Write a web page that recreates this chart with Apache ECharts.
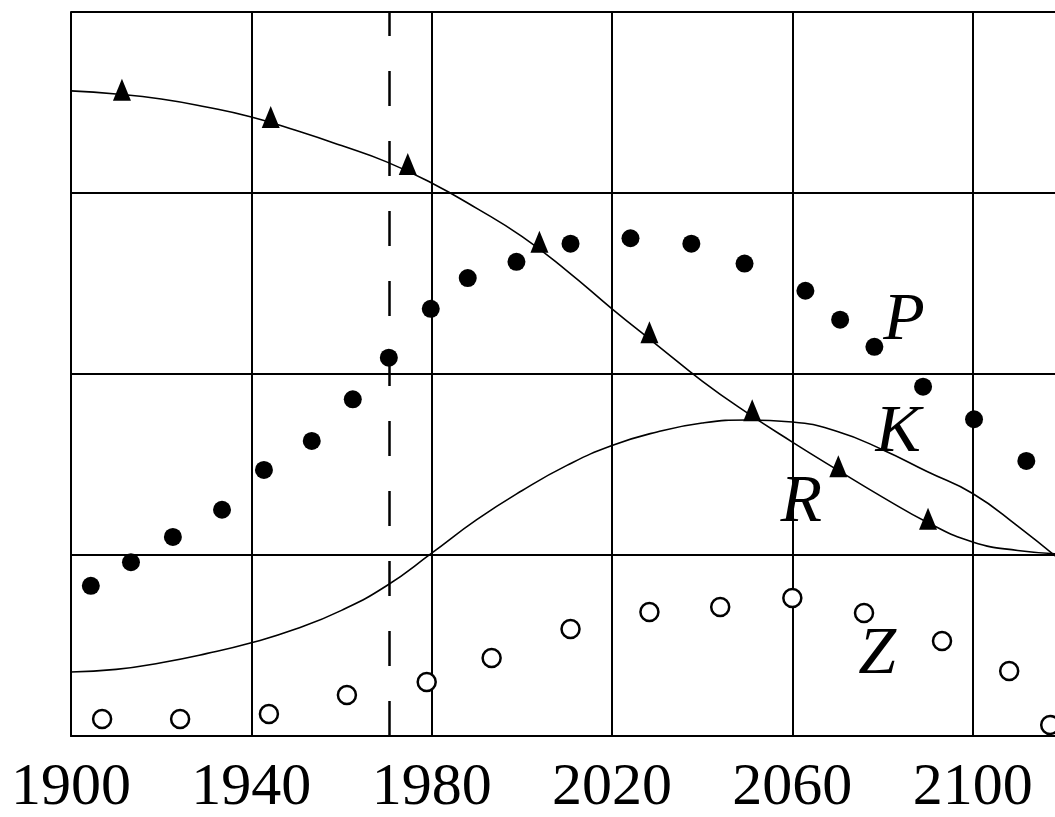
<!DOCTYPE html>
<html>
<head>
<meta charset="utf-8">
<script src="https://cdn.jsdelivr.net/npm/echarts@6/dist/echarts.min.js"></script>
<style>
html,body{margin:0;padding:0;background:#fff;}
#chart{width:1055px;height:817px;}
</style>
</head>
<body>
<div id="chart"></div>
<script>
// Filled circles (P): [year, value]
const pYears  = [1904.4,1913.3,1922.6,1933.5,1942.8,1953.4,1962.5,1970.5,1979.8,1988.0,1998.8,2010.8,2024.1,2037.6,2049.4,2062.9,2070.6,2078.2,2089.0,2100.3,2111.9];
const pValues = [0.83,0.96,1.10,1.25,1.47,1.63,1.86,2.09,2.36,2.53,2.62,2.72,2.75,2.72,2.61,2.46,2.30,2.15,1.93,1.75,1.52];

// Open circles (Z)
const zYears  = [1906.9,1924.2,1943.9,1961.2,1978.9,1993.3,2010.8,2028.3,2044.0,2060.0,2075.9,2093.2,2108.1,2117.2];
const zValues = [0.094,0.094,0.122,0.227,0.298,0.431,0.591,0.685,0.713,0.762,0.680,0.525,0.359,0.061];

// Triangles on the falling curve
const triYears  = [1911.3,1944.3,1974.7,2003.9,2028.3,2051.1,2070.2,2090.1];
const triValues = [3.57,3.42,3.16,2.73,2.23,1.80,1.49,1.20];

// Curves read every 10 years
const curveYears = [1900,1910,1920,1930,1940,1950,1960,1970,1980,1990,2000,2010,2020,2030,2040,2050,2060,2070,2080,2090,2100,2110,2120];
// Falling curve (through triangles)
const fallValues = [3.564,3.547,3.519,3.475,3.420,3.345,3.262,3.172,3.055,2.915,2.760,2.570,2.360,2.160,1.961,1.785,1.624,1.470,1.320,1.180,1.072,1.025,1.006];
// Bell-shaped curve
const bellValues = [0.354,0.368,0.405,0.455,0.515,0.592,0.694,0.830,1.010,1.195,1.355,1.495,1.605,1.680,1.729,1.746,1.735,1.682,1.582,1.460,1.340,1.160,0.960];

// Vertical dashed reference year
const dashedYear = 1970.5;

// Axis ticks
const xMin = 1900, xMax = 2140, xStep = 40;
const yMin = 0, yMax = 4, yStep = 1;

// Curve letters (annotation anchors in data coordinates)
const letterNames  = ['P','K','R','Z'];
const letterYears  = [2084.8,2083.5,2062.0,2078.8];
const letterValues = [2.29,1.675,1.285,0.445];

const zip = (xs, ys) => xs.map((x, i) => [x, ys[i]]);

const chart = echarts.init(document.getElementById('chart'), null, {renderer:'canvas'});
const black = '#000';
chart.setOption({
  animation:false,
  backgroundColor:'#fff',
  grid:{left:71, top:12, right:-98, bottom:81, containLabel:false, outerBoundsMode:'none'},
  xAxis:{
    type:'value', min:xMin, max:xMax, interval:xStep,
    axisLine:{show:true, lineStyle:{color:black, width:2}},
    axisTick:{show:false},
    splitLine:{show:true, lineStyle:{color:black, width:2}},
    axisLabel:{show:true, color:black, fontFamily:'Liberation Serif', fontSize:60, margin:22,
      formatter:v => String(v)}
  },
  yAxis:{
    type:'value', min:yMin, max:yMax, interval:yStep,
    axisLine:{show:true, lineStyle:{color:black, width:2}},
    axisTick:{show:false},
    axisLabel:{show:false},
    splitLine:{show:true, lineStyle:{color:black, width:2}}
  },
  series:[
    {
      type:'line', data:zip(curveYears, fallValues), smooth:0.5, showSymbol:false,
      lineStyle:{color:black, width:1.6}, z:3,
      markLine:{
        silent:true, symbol:'none', label:{show:false},
        lineStyle:{color:black, width:2.5, type:[35,35]},
        data:[{xAxis:dashedYear}]
      }
    },
    {
      type:'line', data:zip(curveYears, bellValues), smooth:0.5, showSymbol:false,
      lineStyle:{color:black, width:1.6}, z:3
    },
    {
      type:'scatter', data:zip(pYears, pValues), symbol:'circle', symbolSize:18,
      itemStyle:{color:black, opacity:1}, z:5
    },
    {
      type:'scatter', data:zip(zYears, zValues), symbol:'circle', symbolSize:18,
      itemStyle:{color:'#fff', borderColor:black, borderWidth:2.5, opacity:1}, z:5
    },
    {
      type:'scatter', data:zip(triYears, triValues), symbol:'triangle', symbolSize:[18,22],
      itemStyle:{color:black, opacity:1}, z:5
    },
    {
      type:'scatter', z:6, symbolSize:1, itemStyle:{color:'transparent', opacity:1},
      data:letterNames.map((n, i) => ({name:n, value:[letterYears[i], letterValues[i]]})),
      label:{
        show:true, position:'inside', formatter:p => p.name, opacity:1,
        color:black, fontFamily:'Liberation Serif', fontStyle:'italic', fontSize:68,
        align:'center', verticalAlign:'middle'
      }
    }
  ]
});
</script>
</body>
</html>
